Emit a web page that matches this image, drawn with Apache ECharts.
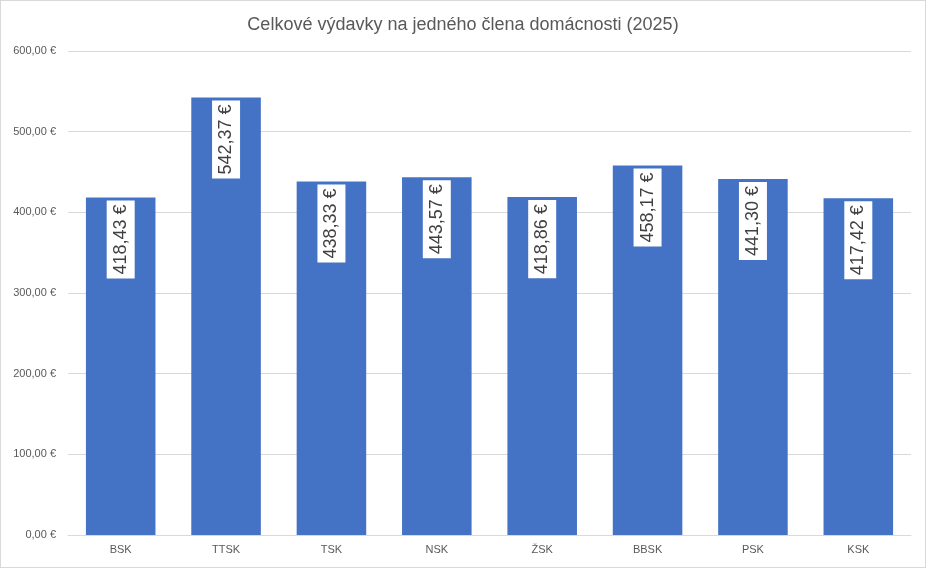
<!DOCTYPE html>
<html><head><meta charset="utf-8">
<script src="https://cdn.jsdelivr.net/npm/echarts@6/dist/echarts.min.js"></script>
<style>html,body{margin:0;padding:0;background:#fff}#c{width:926px;height:568px;box-sizing:border-box;border:1px solid #d9d9d9}</style>
</head><body><div id="c"></div>
<script>
const categories = ['BSK','TTSK','TSK','NSK','ŽSK','BBSK','PSK','KSK'];
const values = [418.43, 542.37, 438.33, 443.57, 418.86, 458.17, 441.30, 417.42];
const yTicks = [0, 100, 200, 300, 400, 500, 600];
const title = 'Celkové výdavky na jedného člena domácnosti (2025)';

const fmt = v => v.toFixed(2).replace('.', ',') + ' €';
const chart = echarts.init(document.getElementById('c'));
chart.setOption({
  animation: false,
  textStyle: {fontFamily: 'Liberation Sans, Arial, sans-serif'},
  title: {text: title, left: 'center', top: 10,
    textStyle: {fontSize: 18, fontWeight: 'normal', color: '#595959', fontFamily: 'Liberation Sans, Arial, sans-serif'}},
  grid: {left: 67, right: 14, top: 50, bottom: 32, containLabel: false},
  xAxis: {type: 'category', data: categories,
    axisLine: {lineStyle: {color: '#d9d9d9'}}, axisTick: {show: false},
    axisLabel: {color: '#595959', fontSize: 11, margin: 9}},
  yAxis: {type: 'value', min: yTicks[0], max: yTicks[yTicks.length-1], interval: 100,
    axisLine: {show: false}, axisTick: {show: false},
    splitLine: {lineStyle: {color: '#d9d9d9'}},
    axisLabel: {color: '#595959', fontSize: 11, margin: 12, formatter: v => fmt(v)}},
  series: [{type: 'bar', data: values, barWidth: '66%',
    itemStyle: {color: '#4472C4'},
    label: {show: true, position: 'insideTop', rotate: 90, align: 'right', verticalAlign: 'middle',
      distance: 3, formatter: p => fmt(p.value), color: '#404040', fontSize: 18,
      backgroundColor: '#fff', padding: [5, 4, 5, 4]}}]
});
</script></body></html>
